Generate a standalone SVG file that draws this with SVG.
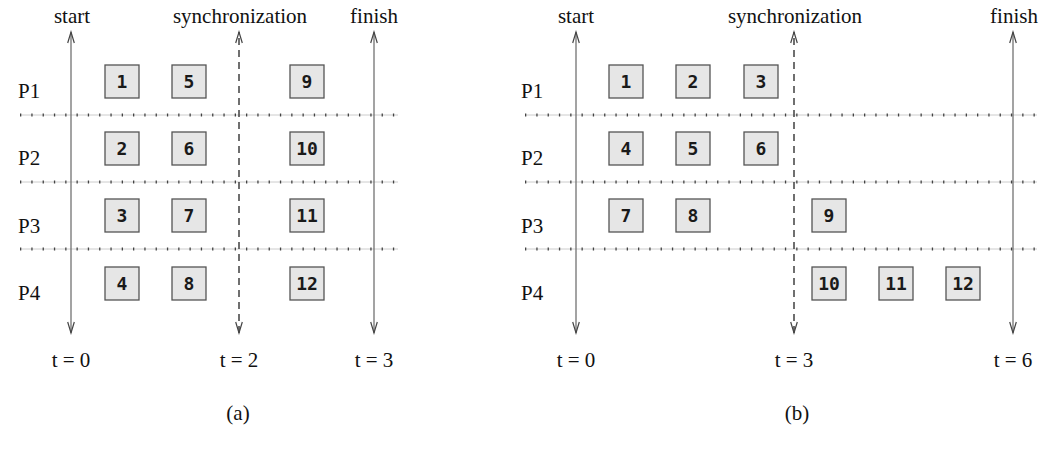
<svg xmlns="http://www.w3.org/2000/svg" width="1056" height="455" viewBox="0 0 1056 455">
<style>
.lbl{font-family:"Liberation Serif","Times New Roman",serif;font-size:21px;fill:#111}
.mid{text-anchor:middle}
.box rect{fill:#e6e6e6;stroke:#555;stroke-width:1.3}
.box text{font-family:"DejaVu Sans Mono",monospace;font-size:18px;font-weight:bold;text-anchor:middle;fill:#1a1a1a}
.base{stroke:#ccc;stroke-width:1}
.tick{stroke:#444;stroke-width:3;stroke-dasharray:1.3 10}
.axis{stroke:#666;stroke-width:1.2;fill:none}
.sync{stroke:#333;stroke-width:1.4;stroke-dasharray:7 5;fill:none}
</style>
<defs>
<marker id="ah" viewBox="-12 -5 14 10" refX="0" refY="0" markerWidth="14" markerHeight="10" markerUnits="userSpaceOnUse" orient="auto-start-reverse">
<path d="M-11,-3.3 L0,0 L-11,3.3" fill="none" stroke="#444" stroke-width="1.2"/>
</marker>
</defs>

<g id="separators">
<line class="base" x1="20" y1="115" x2="398" y2="115"/><line class="tick" x1="20" y1="115" x2="398" y2="115"/>
<line class="base" x1="20" y1="182" x2="398" y2="182"/><line class="tick" x1="20" y1="182" x2="398" y2="182"/>
<line class="base" x1="20" y1="249" x2="398" y2="249"/><line class="tick" x1="20" y1="249" x2="398" y2="249"/>
<line class="base" x1="525" y1="115" x2="1037" y2="115"/><line class="tick" x1="525" y1="115" x2="1037" y2="115"/>
<line class="base" x1="525" y1="182" x2="1037" y2="182"/><line class="tick" x1="525" y1="182" x2="1037" y2="182"/>
<line class="base" x1="525" y1="249" x2="1037" y2="249"/><line class="tick" x1="525" y1="249" x2="1037" y2="249"/>
</g>

<g id="connectors">
<line class="axis" x1="71" y1="333" x2="71" y2="32" marker-start="url(#ah)" marker-end="url(#ah)"/>
<line class="sync" x1="239" y1="333" x2="239" y2="32" marker-start="url(#ah)" marker-end="url(#ah)"/>
<line class="axis" x1="374" y1="333" x2="374" y2="32" marker-start="url(#ah)" marker-end="url(#ah)"/>
<line class="axis" x1="576" y1="333" x2="576" y2="32" marker-start="url(#ah)" marker-end="url(#ah)"/>
<line class="sync" x1="794" y1="333" x2="794" y2="32" marker-start="url(#ah)" marker-end="url(#ah)"/>
<line class="axis" x1="1013" y1="333" x2="1013" y2="32" marker-start="url(#ah)" marker-end="url(#ah)"/>
</g>

<g id="labels-a">
<text class="lbl mid" x="72" y="23">start</text>
<text class="lbl mid" x="240" y="23">synchronization</text>
<text class="lbl mid" x="374" y="23">finish</text>
<text class="lbl" x="18" y="98">P1</text>
<text class="lbl" x="18" y="165">P2</text>
<text class="lbl" x="18" y="233">P3</text>
<text class="lbl" x="18" y="300">P4</text>
<text class="lbl mid" x="71" y="367">t = 0</text>
<text class="lbl mid" x="239" y="367">t = 2</text>
<text class="lbl mid" x="374" y="367">t = 3</text>
<text class="lbl mid" x="238" y="420">(a)</text>
</g>

<g id="labels-b">
<text class="lbl mid" x="576" y="23">start</text>
<text class="lbl mid" x="795" y="23">synchronization</text>
<text class="lbl mid" x="1014" y="23">finish</text>
<text class="lbl" x="521" y="98">P1</text>
<text class="lbl" x="521" y="165">P2</text>
<text class="lbl" x="521" y="233">P3</text>
<text class="lbl" x="521" y="300">P4</text>
<text class="lbl mid" x="576" y="367">t = 0</text>
<text class="lbl mid" x="794" y="367">t = 3</text>
<text class="lbl mid" x="1013" y="367">t = 6</text>
<text class="lbl mid" x="797" y="420">(b)</text>
</g>

<g id="a1" class="box"><rect x="105" y="65" width="34" height="33"/><text x="122" y="88">1</text></g>
<g id="a5" class="box"><rect x="172" y="65" width="34" height="33"/><text x="189" y="88">5</text></g>
<g id="a9" class="box"><rect x="290" y="65" width="34" height="33"/><text x="307" y="88">9</text></g>
<g id="a2" class="box"><rect x="105" y="132" width="34" height="33"/><text x="122" y="155">2</text></g>
<g id="a6" class="box"><rect x="172" y="132" width="34" height="33"/><text x="189" y="155">6</text></g>
<g id="a10" class="box"><rect x="290" y="132" width="34" height="33"/><text x="307" y="155">10</text></g>
<g id="a3" class="box"><rect x="105" y="199" width="34" height="33"/><text x="122" y="222">3</text></g>
<g id="a7" class="box"><rect x="172" y="199" width="34" height="33"/><text x="189" y="222">7</text></g>
<g id="a11" class="box"><rect x="290" y="199" width="34" height="33"/><text x="307" y="222">11</text></g>
<g id="a4" class="box"><rect x="105" y="267" width="34" height="33"/><text x="122" y="290">4</text></g>
<g id="a8" class="box"><rect x="172" y="267" width="34" height="33"/><text x="189" y="290">8</text></g>
<g id="a12" class="box"><rect x="290" y="267" width="34" height="33"/><text x="307" y="290">12</text></g>

<g id="b1" class="box"><rect x="609" y="65" width="34" height="33"/><text x="626" y="88">1</text></g>
<g id="b2" class="box"><rect x="676" y="65" width="34" height="33"/><text x="693" y="88">2</text></g>
<g id="b3" class="box"><rect x="744" y="65" width="34" height="33"/><text x="761" y="88">3</text></g>
<g id="b4" class="box"><rect x="609" y="132" width="34" height="33"/><text x="626" y="155">4</text></g>
<g id="b5" class="box"><rect x="676" y="132" width="34" height="33"/><text x="693" y="155">5</text></g>
<g id="b6" class="box"><rect x="744" y="132" width="34" height="33"/><text x="761" y="155">6</text></g>
<g id="b7" class="box"><rect x="609" y="199" width="34" height="33"/><text x="626" y="222">7</text></g>
<g id="b8" class="box"><rect x="676" y="199" width="34" height="33"/><text x="693" y="222">8</text></g>
<g id="b9" class="box"><rect x="812" y="199" width="34" height="33"/><text x="829" y="222">9</text></g>
<g id="b10" class="box"><rect x="812" y="267" width="34" height="33"/><text x="829" y="290">10</text></g>
<g id="b11" class="box"><rect x="879" y="267" width="34" height="33"/><text x="896" y="290">11</text></g>
<g id="b12" class="box"><rect x="946" y="267" width="34" height="33"/><text x="963" y="290">12</text></g>
</svg>
